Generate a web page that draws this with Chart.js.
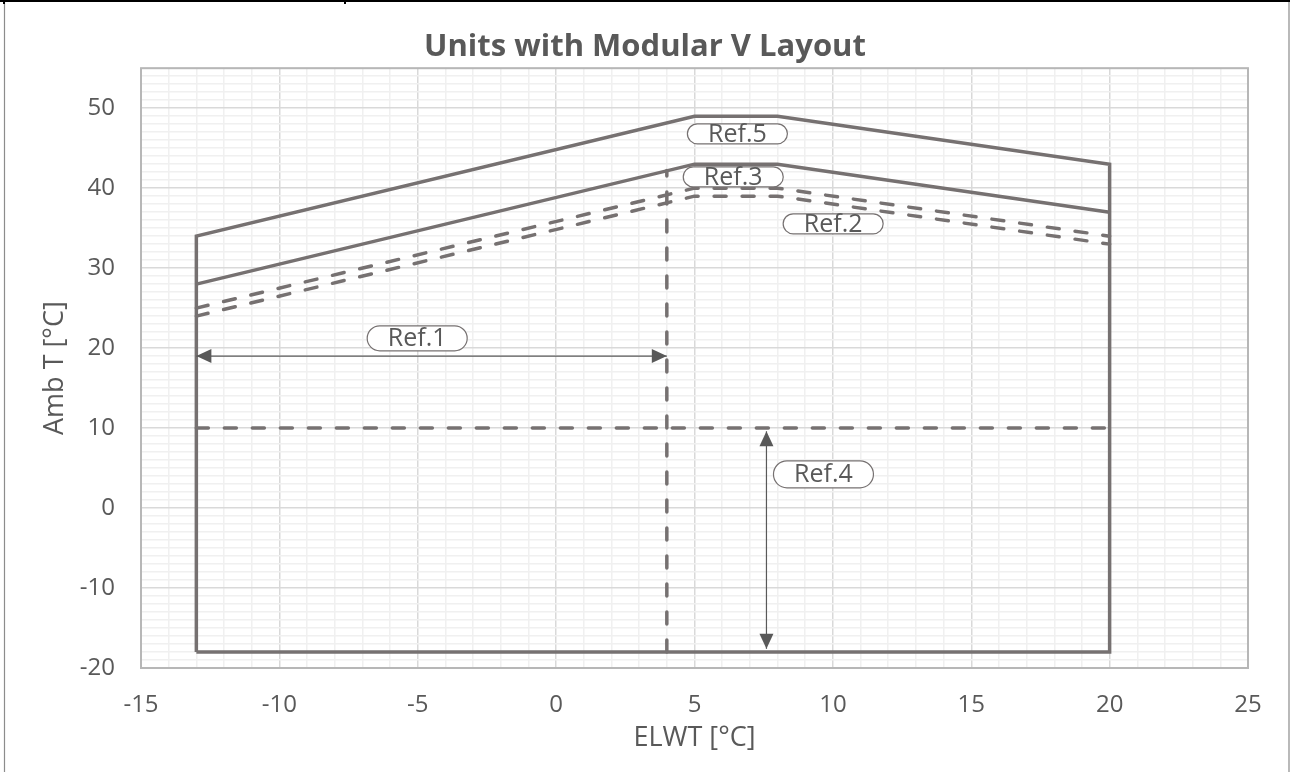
<!DOCTYPE html>
<html>
<head>
<meta charset="utf-8">
<script src="https://cdn.jsdelivr.net/npm/chart.js@4/dist/chart.umd.min.js"></script>
<style>
html,body{margin:0;padding:0;background:#fff;}
#wrap{position:relative;width:1290px;height:772px;}
canvas{display:block;}
</style>
</head>
<body>
<div id="wrap"><canvas id="c" width="1290" height="772"></canvas></div>
<script>
// ---- data ----
const envelopeX = [-13, -13, 5, 8, 20, 20, -13];
const envelopeY = [-18, 34, 49, 49, 43, -18, -18];
const ref3X = [-13, 5, 8, 20];
const ref3Y = [28, 43, 43, 37];
const ref2UpperX = [-13, 5, 8, 20];
const ref2UpperY = [25, 40, 40, 34];
const ref2LowerX = [-13, 5, 8, 20];
const ref2LowerY = [24, 39, 39, 33];
const ref1LimitX = [4, 4];
const ref1LimitY = [-18, 42.2];
const ref4LimitX = [-13, 20];
const ref4LimitY = [10, 10];
const arrow1X = [-13, 4];
const arrow1Y = [19, 19];
const arrow4X = [7.6, 7.6];
const arrow4Y = [9.6, -17.6];
const refLabels = ['Ref.1', 'Ref.2', 'Ref.3', 'Ref.4', 'Ref.5'];
const refX = [-5.02, 10.01, 6.40, 9.66, 6.55];
const refY = [21.22, 35.54, 41.41, 4.22, 46.79];
const xTickLabels = [-15, -10, -5, 0, 5, 10, 15, 20, 25];
const yTickLabels = [-20, -10, 0, 10, 20, 30, 40, 50];

// ---- styles ----
const FONT = "'Open Sans', 'DejaVu Sans', sans-serif";
const TXT = '#595959';
const LINE = '#767171';
const ARROW = '#595959';
const MAJOR = '#d9d9d9';
const MINOR = '#f0f0f0';
const boxW = [100, 100, 100, 100, 100];
const boxH = [25, 20, 20, 27, 20];

const pts = (xs, ys) => xs.map((x, i) => ({x: x, y: ys[i]}));

const solid = {showLine: true, borderColor: LINE, borderWidth: 3.5, pointRadius: 0,
  borderJoinStyle: 'miter', borderCapStyle: 'butt', fill: false, tension: 0};
const dashed = {showLine: true, borderColor: LINE, borderWidth: 3.5, pointRadius: 0,
  borderDash: [12, 16], borderJoinStyle: 'round', borderCapStyle: 'round', fill: false, tension: 0};

function arrowHead(ctx, tx, ty, dx, dy) {
  const len = 15, half = 7;
  const n = Math.hypot(dx, dy); dx /= n; dy /= n;
  const bx = tx - dx * len, by = ty - dy * len;
  ctx.beginPath();
  ctx.moveTo(tx, ty);
  ctx.lineTo(bx - dy * half, by + dx * half);
  ctx.lineTo(bx + dy * half, by - dx * half);
  ctx.closePath();
  ctx.fill();
}

function drawArrow(ctx, xs, ys, sx, sy) {
  const x1 = sx.getPixelForValue(xs[0]), y1 = sy.getPixelForValue(ys[0]);
  const x2 = sx.getPixelForValue(xs[1]), y2 = sy.getPixelForValue(ys[1]);
  ctx.save();
  ctx.strokeStyle = ARROW; ctx.fillStyle = ARROW; ctx.lineWidth = 1.2;
  ctx.beginPath(); ctx.moveTo(x1, y1); ctx.lineTo(x2, y2); ctx.stroke();
  arrowHead(ctx, x1, y1, x1 - x2, y1 - y2);
  arrowHead(ctx, x2, y2, x2 - x1, y2 - y1);
  ctx.restore();
}

const decor = {
  id: 'decor',
  beforeDraw(chart) {
    const ctx = chart.ctx;
    ctx.save();
    ctx.fillStyle = '#fff';
    ctx.fillRect(0, 0, chart.width, chart.height);
    ctx.strokeStyle = '#8c8c8c'; ctx.lineWidth = 1.2;
    ctx.beginPath();
    ctx.moveTo(4.5, 2); ctx.lineTo(4.5, chart.height);
    ctx.moveTo(1289, 2); ctx.lineTo(1289, chart.height);
    ctx.stroke();
    ctx.fillStyle = '#000';
    ctx.fillRect(0, 0, chart.width, 2);
    ctx.fillRect(3, 0, 2, 4);
    ctx.fillRect(344, 0, 2, 4);
    ctx.restore();
  },
  beforeDatasetsDraw(chart) {
    const {ctx, chartArea: a} = chart;
    ctx.save();
    ctx.strokeStyle = '#b7b7b7'; ctx.lineWidth = 2;
    ctx.strokeRect(a.left, a.top, a.right - a.left, a.bottom - a.top);
    ctx.restore();
  },
  afterDatasetsDraw(chart) {
    const ctx = chart.ctx;
    const sx = chart.scales.x, sy = chart.scales.y;
    drawArrow(ctx, arrow1X, arrow1Y, sx, sy);
    drawArrow(ctx, arrow4X, arrow4Y, sx, sy);
    ctx.save();
    for (let i = 0; i < refLabels.length; i++) {
      const cx = sx.getPixelForValue(refX[i]);
      const cy = sy.getPixelForValue(refY[i]);
      const w = boxW[i], h = boxH[i], r = h / 2;
      const l = cx - w / 2, t = cy - h / 2;
      ctx.beginPath();
      ctx.moveTo(l + r, t);
      ctx.lineTo(l + w - r, t);
      ctx.arc(l + w - r, t + r, r, -Math.PI / 2, Math.PI / 2);
      ctx.lineTo(l + r, t + h);
      ctx.arc(l + r, t + r, r, Math.PI / 2, Math.PI * 1.5);
      ctx.closePath();
      ctx.fillStyle = '#fff'; ctx.fill();
      ctx.strokeStyle = LINE; ctx.lineWidth = 1.2; ctx.stroke();
      ctx.fillStyle = TXT;
      ctx.font = '25px ' + FONT;
      ctx.textAlign = 'center'; ctx.textBaseline = 'middle';
      ctx.fillText(refLabels[i], cx, cy + 1);
    }
    ctx.restore();
  }
};

new Chart(document.getElementById('c'), {
  type: 'scatter',
  data: {
    datasets: [
      Object.assign({label: 'Ref.5', data: pts(envelopeX, envelopeY)}, solid),
      Object.assign({label: 'Ref.3', data: pts(ref3X, ref3Y)}, solid),
      Object.assign({label: 'Ref.2 upper', data: pts(ref2UpperX, ref2UpperY)}, dashed),
      Object.assign({label: 'Ref.2 lower', data: pts(ref2LowerX, ref2LowerY)}, dashed),
      Object.assign({label: 'Ref.1', data: pts(ref1LimitX, ref1LimitY)}, dashed),
      Object.assign({label: 'Ref.4', data: pts(ref4LimitX, ref4LimitY)}, dashed)
    ]
  },
  options: {
    responsive: false,
    animation: false,
    devicePixelRatio: 1,
    layout: {padding: 0},
    plugins: {
      legend: {display: false},
      tooltip: {enabled: false},
      title: {
        display: true,
        text: 'Units with Modular V Layout',
        color: TXT,
        font: {family: FONT, size: 31, weight: 'bold', lineHeight: 1.2},
        padding: {top: 29, bottom: 2}
      }
    },
    scales: {
      x: {
        type: 'linear', position: 'bottom', min: -15, max: 25,
        ticks: {
          stepSize: 1, autoSkip: false, maxRotation: 0, padding: 23, color: TXT,
          font: {family: FONT, size: 24},
          callback: v => xTickLabels.includes(v) ? String(v) : ''
        },
        grid: {
          drawTicks: false, lineWidth: 1.5,
          color: c => (c.tick && c.tick.value % 5 === 0) ? MAJOR : MINOR
        },
        border: {display: false},
        title: {display: true, text: 'ELWT [°C]', color: TXT,
          font: {family: FONT, size: 27, lineHeight: 1.2}, padding: {top: 0, bottom: 17}},
        afterFit: s => { s.height = 104; }
      },
      y: {
        type: 'linear', position: 'left', min: -20, max: 55,
        ticks: {
          stepSize: 1, autoSkip: false, padding: 26, color: TXT,
          font: {family: FONT, size: 24},
          callback: v => yTickLabels.includes(v) ? String(v) : ''
        },
        grid: {
          drawTicks: false, lineWidth: 1.5,
          color: c => (c.tick && c.tick.value % 10 === 0) ? MAJOR : MINOR
        },
        border: {display: false},
        title: {display: true, text: 'Amb T [°C]', color: TXT,
          font: {family: FONT, size: 27, lineHeight: 1.2}, padding: {top: 39, bottom: 0}},
        afterFit: s => { s.width = 141; }
      },
      y2: {
        type: 'linear', position: 'right', display: true,
        grid: {display: false}, ticks: {display: false}, border: {display: false},
        afterFit: s => { s.width = 42; }
      }
    }
  },
  plugins: [decor]
});
</script>
</body>
</html>
